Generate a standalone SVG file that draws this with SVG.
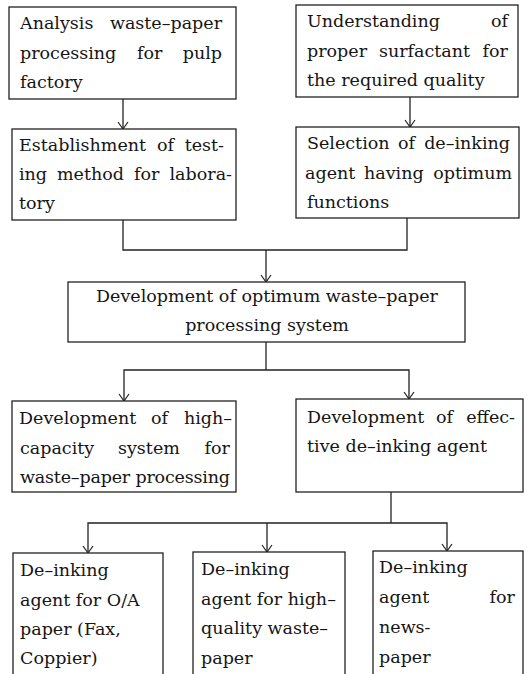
<svg xmlns="http://www.w3.org/2000/svg" width="527" height="674" viewBox="0 0 527 674">
<defs>
<style>
rect.b{fill:#fff;stroke:#222;stroke-width:1.3}
text{font-family:"DejaVu Serif","Liberation Serif",serif;font-size:17.5px;fill:#151515}
text.e{text-anchor:end}
text.m{text-anchor:middle}
.c{fill:none;stroke:#222;stroke-width:1.3}
.ah{fill:none;stroke:#222;stroke-width:1.2}
</style>
</defs>
<rect width="527" height="674" fill="#fff"/>

<g id="connectors">
<line class="c" x1="123" y1="99" x2="123" y2="129"/>
<line class="c" x1="410" y1="97" x2="410" y2="127"/>
<path class="c" d="M123,220 V250 H407 V218"/>
<line class="c" x1="266" y1="250" x2="266" y2="282"/>
<path class="c" d="M266,342 V370"/>
<path class="c" d="M124,401 V370 H409 V399"/>
<path class="c" d="M391,492 V523"/>
<path class="c" d="M88,553 V523 H447 V551"/>
<line class="c" x1="267" y1="523" x2="267" y2="552"/>
<g class="ah">
<path d="M118,122 L123,129 L128,122"/>
<path d="M405,120 L410,127 L415,120"/>
<path d="M261,275 L266,282 L271,275"/>
<path d="M119,394 L124,401 L129,394"/>
<path d="M404,392 L409,399 L414,392"/>
<path d="M83,546 L88,553 L93,546"/>
<path d="M262,545 L267,552 L272,545"/>
<path d="M442,544 L447,551 L452,544"/>
</g>
</g>

<g id="n1">
<rect class="b" x="9" y="7" width="227" height="92"/>
<text x="20" y="29">Analysis</text><text class="e" x="222" y="29">waste–paper</text>
<text x="20" y="59">processing</text><text x="137" y="59">for</text><text class="e" x="222" y="59">pulp</text>
<text x="20" y="88">factory</text>
</g>

<g id="n2">
<rect class="b" x="12" y="129" width="224" height="91"/>
<text x="19" y="151">Establishment</text><text x="157" y="151">of</text><text class="e" x="224" y="151">test-</text>
<text x="19" y="180">ing</text><text x="57" y="180">method</text><text x="134" y="180">for</text><text class="e" x="232" y="180">labora-</text>
<text x="19" y="209">tory</text>
</g>

<g id="n3">
<rect class="b" x="296" y="5" width="222" height="92"/>
<text x="307" y="27">Understanding</text><text class="e" x="508" y="27">of</text>
<text x="307" y="57">proper</text><text x="379" y="57">surfactant</text><text class="e" x="508" y="57">for</text>
<text x="307" y="86">the required quality</text>
</g>

<g id="n4">
<rect class="b" x="296" y="127" width="223" height="91"/>
<text x="307" y="149">Selection</text><text x="398" y="149">of</text><text class="e" x="510" y="149">de–inking</text>
<text x="305" y="179">agent</text><text x="364" y="179">having</text><text class="e" x="512" y="179">optimum</text>
<text x="307" y="208">functions</text>
</g>

<g id="n5">
<rect class="b" x="68" y="282" width="397" height="60"/>
<text class="m" x="267" y="302">Development of optimum waste–paper</text>
<text class="m" x="267" y="331">processing system</text>
</g>

<g id="n6">
<rect class="b" x="12" y="401" width="224" height="91"/>
<text x="19" y="424">Development</text><text x="151" y="424">of</text><text class="e" x="232" y="424">high–</text>
<text x="20" y="454">capacity</text><text x="118" y="454">system</text><text class="e" x="230" y="454">for</text>
<text x="20" y="483" textLength="210" lengthAdjust="spacing">waste–paper processing</text>
</g>

<g id="n7">
<rect class="b" x="296" y="399" width="227" height="93"/>
<text x="307" y="423">Development</text><text x="436" y="423">of</text><text class="e" x="515" y="423">effec-</text>
<text x="307" y="452">tive de–inking agent</text>
</g>

<g id="n8">
<rect class="b" x="13" y="553" width="150" height="130"/>
<text x="20" y="576">De–inking</text>
<text x="20" y="606">agent for O/A</text>
<text x="20" y="635">paper (Fax,</text>
<text x="20" y="664">Coppier)</text>
</g>

<g id="n9">
<rect class="b" x="193" y="552" width="152" height="130"/>
<text x="201" y="575">De–inking</text>
<text x="201" y="605">agent for high–</text>
<text x="201" y="634">quality waste–</text>
<text x="201" y="664">paper</text>
</g>

<g id="n10">
<rect class="b" x="373" y="551" width="150" height="130"/>
<text x="379" y="573">De–inking</text>
<text x="379" y="603">agent</text><text class="e" x="515" y="603">for</text>
<text x="379" y="633">news-</text>
<text x="379" y="663">paper</text>
</g>
</svg>
